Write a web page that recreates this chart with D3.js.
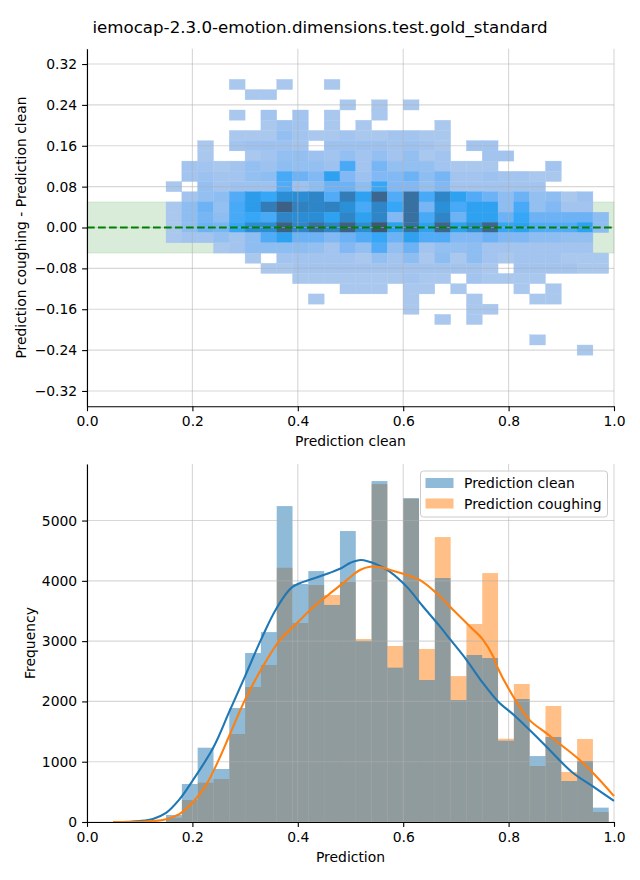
<!DOCTYPE html>
<html><head><meta charset="utf-8">
<script src="https://cdn.jsdelivr.net/npm/d3@7"></script>
<style>body{margin:0;background:#fff}svg{display:block}</style>
</head><body><svg id="c" width="640" height="880"></svg>
<script>
// ---------------- DATA ----------------
const title = "iemocap-2.3.0-emotion.dimensions.test.gold_standard";
const binStarts = [0.15,0.18,0.21,0.24,0.27,0.30,0.33,0.36,0.39,0.42,0.45,0.48,0.51,0.54,0.57,0.60,0.63,0.66,0.69,0.72,0.75,0.78,0.81,0.84,0.87,0.90,0.93,0.96];
const binWidth = 0.03;
const cleanCounts = [116,630,1232,879,1891,2803,3150,5240,3947,4162,3600,4826,3000,5655,2560,5373,2355,4046,2023,2770,2720,1348,2040,1094,1410,680,1012,238];
const coughCounts = [71,365,652,713,1459,2239,2604,4217,3300,3930,3765,3980,3035,5605,2919,5360,2870,4726,2420,3284,4129,1381,2289,929,1924,829,1376,166];
const kdeCleanX = [0.05,0.08,0.10,0.125,0.15,0.175,0.20,0.24,0.27,0.30,0.33,0.36,0.39,0.43,0.46,0.48,0.50,0.52,0.55,0.575,0.607,0.638,0.67,0.69,0.72,0.75,0.78,0.81,0.84,0.87,0.92,0.96,1.0];
const kdeCleanY = [0,4,15,50,150,370,680,1240,1830,2420,3020,3550,3900,4040,4130,4200,4300,4345,4270,4150,3900,3570,3240,3020,2690,2320,2000,1774,1525,1265,830,590,350];
const kdeCoughX = [0.05,0.08,0.10,0.125,0.15,0.175,0.20,0.225,0.25,0.27,0.30,0.335,0.366,0.398,0.43,0.461,0.493,0.518,0.537,0.56,0.575,0.607,0.632,0.664,0.695,0.727,0.752,0.771,0.777,0.809,0.84,0.872,0.904,0.935,0.967,1.0];
const kdeCoughY = [0,1,4,14,45,130,320,600,1030,1430,2030,2600,3018,3295,3570,3790,4013,4180,4234,4220,4180,4096,4013,3790,3515,3240,3018,2740,2600,2078,1690,1470,1249,1028,751,430];
const heatY = [0.28,0.26,0.24,0.22,0.20,0.18,0.16,0.14,0.12,0.10,0.08,0.06,0.04,0.02,0.00,-0.02,-0.04,-0.06,-0.08,-0.10,-0.12,-0.14,-0.16,-0.18,-0.20,-0.22,-0.24];
const heatYHalf = 0.01;
const heatMax = 100;
const heatCounts = [
[0,0,0,0,1,0,0,1,0,0,1,0,0,0,0,0,0,0,0,0,0,0,0,0,0,0,0,0],
[0,0,0,0,0,1,1,0,0,0,0,0,0,0,0,0,0,0,0,0,0,0,0,0,0,0,0,0],
[0,0,0,0,0,0,0,0,0,0,0,1,0,1,0,1,0,0,0,0,0,0,0,0,0,0,0,0],
[0,0,0,0,1,0,4,0,4,0,1,0,0,1,0,0,0,0,0,0,0,0,0,0,0,0,0,0],
[0,0,0,0,0,0,1,6,4,0,1,0,1,0,0,0,0,1,0,0,0,0,0,0,0,0,0,0],
[0,0,0,0,1,1,1,9,4,1,1,4,1,1,4,4,1,1,0,0,0,0,0,0,0,0,0,0],
[0,0,1,0,4,6,6,6,4,0,6,6,6,6,4,6,4,1,0,4,4,0,0,0,0,0,0,0],
[0,0,1,0,0,1,4,9,9,6,4,9,4,9,4,9,1,4,0,0,4,4,0,0,0,0,0,0],
[0,4,4,1,4,9,6,11,9,9,6,29,4,18,9,9,9,4,1,1,1,0,0,0,4,0,0,0],
[0,4,6,4,4,9,11,29,21,15,36,15,6,15,15,21,11,18,4,4,6,4,4,1,1,0,0,0],
[1,0,9,4,6,6,6,27,6,11,21,21,11,32,15,15,9,15,4,4,4,4,4,4,0,0,0,0],
[0,4,9,11,27,40,32,52,52,58,27,66,36,85,27,76,29,58,36,27,21,11,21,9,11,1,6,0],
[1,11,21,9,29,40,66,89,62,58,62,50,29,58,32,76,18,50,29,36,36,11,29,9,15,4,4,0],
[1,11,18,11,29,32,29,58,52,52,36,58,36,58,15,76,29,58,21,36,36,21,32,21,21,21,21,11],
[1,11,21,18,32,52,52,89,58,76,58,89,52,97,36,76,36,85,36,52,85,32,36,27,27,27,36,11],
[1,4,4,9,4,11,27,36,21,21,15,21,27,32,21,36,27,27,15,15,21,15,15,11,11,9,9,0],
[0,0,0,1,4,11,11,11,11,9,4,15,9,27,9,21,4,9,9,11,4,4,4,4,4,4,4,0],
[0,0,0,0,0,1,0,4,4,4,4,4,1,9,4,11,1,11,1,11,4,1,4,4,4,1,1,1],
[0,0,0,0,0,0,1,1,4,4,4,4,4,4,4,4,4,4,4,4,1,0,4,4,4,4,1,1],
[0,0,0,0,0,0,0,0,1,1,1,1,1,1,1,4,1,1,0,4,1,1,1,1,0,0,0,0],
[0,0,0,0,0,0,0,0,0,0,0,1,1,1,0,1,1,0,1,0,0,0,1,0,1,0,0,0],
[0,0,0,0,0,0,0,0,0,1,0,0,0,0,0,1,0,0,0,1,0,0,0,1,1,0,0,0],
[0,0,0,0,0,0,0,0,0,0,0,0,0,0,0,1,0,0,0,1,1,0,0,0,0,0,0,0],
[0,0,0,0,0,0,0,0,0,0,0,0,0,0,0,0,0,1,0,1,0,0,0,0,0,0,0,0],
[0,0,0,0,0,0,0,0,0,0,0,0,0,0,0,0,0,0,0,0,0,0,0,0,0,0,0,0],
[0,0,0,0,0,0,0,0,0,0,0,0,0,0,0,0,0,0,0,0,0,0,0,1,0,0,0,0],
[0,0,0,0,0,0,0,0,0,0,0,0,0,0,0,0,0,0,0,0,0,0,0,0,0,0,1,0]
];
const xTicks = [0,0.2,0.4,0.6,0.8,1.0];
const topYTicks = [-0.32,-0.24,-0.16,-0.08,0,0.08,0.16,0.24,0.32];
const botYTicks = [0,1000,2000,3000,4000,5000];
const seriesNames = ["Prediction clean","Prediction coughing"];
const C0 = "#1f77b4", C1 = "#ff7f0e";

// ---------------- HUSL colormap (seaborn style) ----------------
const M=[[3.2406,-1.5372,-0.4986],[-0.9689,1.8758,0.0415],[0.0557,-0.2040,1.0570]];
const Minv=[[0.4124,0.3576,0.1805],[0.2126,0.7152,0.0722],[0.0193,0.1192,0.9505]];
const refY=1.0, refU=0.19784, refV=0.46834, labE=0.008856, labK=903.3;
function maxChroma(L,H){
  const hr=H*Math.PI/180, sH=Math.sin(hr), cH=Math.cos(hr);
  const sub1=Math.pow(L+16,3)/1560896, sub2=sub1>0.008856?sub1:L/903.3;
  let res=Infinity;
  for(const [m1,m2,m3] of M){
    const top=(0.99915*m1+1.05122*m2+1.14460*m3)*sub2;
    const rb=0.86330*m3-0.17266*m2, lb=0.12949*m3-0.38848*m1;
    const bottom=(rb*sH+lb*cH)*sub2;
    for(const t of [0,1]){const C=L*(top-1.05122*t)/(bottom+0.17266*sH*t); if(C>0&&C<res)res=C;}
  }
  return res;
}
const toLin=c=>c>0.04045?Math.pow((c+0.055)/1.055,2.4):c/12.92;
const fromLin=c=>c<=0.0031308?12.92*c:1.055*Math.pow(c,1/2.4)-0.055;
const fF=t=>t>labE?Math.cbrt(t):7.787*t+16/116;
const fInv=t=>Math.pow(t,3)>labE?Math.pow(t,3):(116*t-16)/labK;
function rgbToHusl(r,g,b){
  const l=[r,g,b].map(toLin);
  const [X,Y,Z]=Minv.map(w=>w[0]*l[0]+w[1]*l[1]+w[2]*l[2]);
  const d=X+15*Y+3*Z, vu=4*X/d, vv=9*Y/d;
  const L=116*fF(Y/refY)-16, U=13*L*(vu-refU), V=13*L*(vv-refV);
  let H=Math.atan2(V,U)*180/Math.PI; if(H<0)H+=360;
  return [H, Math.hypot(U,V)/maxChroma(L,H)*100, L];
}
function huslToRgb(H,S,L){
  const C=maxChroma(L,H)/100*S, hr=H*Math.PI/180;
  const U=Math.cos(hr)*C, V=Math.sin(hr)*C;
  const Y=fInv((L+16)/116)*refY, vu=U/(13*L)+refU, vv=V/(13*L)+refV;
  const X=-(9*Y*vu)/((vu-4)*vv-vu*vv), Z=(9*Y-15*vv*Y-vv*X)/(3*vv);
  return M.map(w=>Math.min(1,Math.max(0,fromLin(w[0]*X+w[1]*Y+w[2]*Z))));
}
const baseRgb=d3.rgb(C0);
const [hh,ss]=rgbToHusl(baseRgb.r/255,baseRgb.g/255,baseRgb.b/255);
const NN=Math.floor(1.15*256), ramp=[];
for(let i=0;i<256;i++){
  const xx=-1+2*i/(NN-1);
  const rgb=huslToRgb(hh, ss*Math.cos(xx), 35+45*i/255);
  ramp.push(d3.rgb(rgb[0]*255,rgb[1]*255,rgb[2]*255).formatHex());
}
ramp.reverse();
const cmap=t=>ramp[Math.max(0,Math.min(255,Math.floor(t*256)))];

// ---------------- DRAW ----------------
const svg=d3.select("#c");
const FONT="'DejaVu Sans', sans-serif";
const gridStyle=s=>s.attr("stroke","#b0b0b0").attr("stroke-opacity",0.5).attr("stroke-width",1.1);

svg.append("text").attr("x",320).attr("y",33).attr("text-anchor","middle")
  .attr("font-family",FONT).attr("font-size",16.67).text(title);

// ---- top panel ----
const xT=d3.scaleLinear().domain([0,1]).range([87,614]);
const yT=d3.scaleLinear().domain([-0.35,0.35]).range([406.3,48.7]);
const gT=svg.append("g");
gT.append("rect").attr("x",xT(0)).attr("width",xT(1)-xT(0))
  .attr("y",yT(0.05)).attr("height",yT(-0.05)-yT(0.05))
  .attr("fill","green").attr("fill-opacity",0.15).attr("stroke","green").attr("stroke-opacity",0.12);
const cells=[];
heatY.forEach((yv,ri)=>heatCounts[ri].forEach((c,ci)=>{if(c>0)cells.push({x0:binStarts[ci],y:yv,c});}));
gT.selectAll("rect.cell").data(cells).join("rect").attr("class","cell")
  .attr("x",d=>xT(d.x0)).attr("width",d=>xT(d.x0+binWidth)-xT(d.x0))
  .attr("y",d=>yT(d.y+heatYHalf)).attr("height",d=>yT(d.y-heatYHalf)-yT(d.y+heatYHalf))
  .attr("fill",d=>cmap(d.c/heatMax)).attr("stroke",d=>cmap(d.c/heatMax)).attr("stroke-width",0.35);
// grid
gT.selectAll("line.gx").data(xTicks).join("line").attr("x1",d=>xT(d)).attr("x2",d=>xT(d)).attr("y1",yT.range()[0]).attr("y2",yT.range()[1]).call(gridStyle);
gT.selectAll("line.gy").data(topYTicks).join("line").attr("x1",xT(0)).attr("x2",xT(1)).attr("y1",d=>yT(d)).attr("y2",d=>yT(d)).call(gridStyle);
// zero line
gT.append("line").attr("x1",xT(0)).attr("x2",xT(1)).attr("y1",yT(0)).attr("y2",yT(0))
  .attr("stroke","green").attr("stroke-width",2.1).attr("stroke-dasharray","7.7,3.3");

function styleAxis(g){
  g.attr("font-family",FONT).attr("font-size",13.9);
  g.selectAll("path").attr("stroke","#000").attr("stroke-width",1.1);
  g.selectAll("line").attr("stroke","#000").attr("stroke-width",1.1);
  g.selectAll("text").attr("fill","#000");
}
gT.append("g").attr("transform",`translate(0,${yT.range()[0]})`)
  .call(d3.axisBottom(xT).tickValues(xTicks).tickFormat(d3.format(".1f")).tickSize(4.9).tickPadding(4.9).tickSizeOuter(0)).call(styleAxis);
gT.append("g").attr("transform",`translate(${xT(0)},0)`)
  .call(d3.axisLeft(yT).tickValues(topYTicks).tickFormat(d3.format(".2f")).tickSize(4.9).tickPadding(4.9).tickSizeOuter(0)).call(styleAxis);
svg.append("text").attr("x",350.5).attr("y",446).attr("text-anchor","middle").attr("font-family",FONT).attr("font-size",13.9).text("Prediction clean");
svg.append("text").attr("transform","translate(26,227.5) rotate(-90)").attr("text-anchor","middle").attr("font-family",FONT).attr("font-size",13.9).text("Prediction coughing - Prediction clean");

// ---- bottom panel ----
const xB=d3.scaleLinear().domain([0,1]).range([87,614]);
const yB=d3.scaleLinear().domain([0,5938]).range([822,464]);
const gB=svg.append("g");
const drawBars=(counts,color)=>gB.append("g").selectAll("rect").data(counts).join("rect")
  .attr("x",(d,i)=>xB(binStarts[i])).attr("width",(d,i)=>xB(binStarts[i]+binWidth)-xB(binStarts[i]))
  .attr("y",d=>yB(d)).attr("height",d=>yB(0)-yB(d)).attr("fill",color).attr("fill-opacity",0.5);
drawBars(coughCounts,C1);
drawBars(cleanCounts,C0);
gB.selectAll("line.gx").data(xTicks).join("line").attr("x1",d=>xB(d)).attr("x2",d=>xB(d)).attr("y1",yB.range()[0]).attr("y2",yB.range()[1]).call(gridStyle);
gB.selectAll("line.gy").data(botYTicks).join("line").attr("x1",xB(0)).attr("x2",xB(1)).attr("y1",d=>yB(d)).attr("y2",d=>yB(d)).call(gridStyle);
const line=d3.line().curve(d3.curveCatmullRom.alpha(0.5));
gB.append("path").attr("d",line(kdeCleanX.map((x,i)=>[xB(x),yB(kdeCleanY[i])]))).attr("fill","none").attr("stroke",C0).attr("stroke-width",2.1);
gB.append("path").attr("d",line(kdeCoughX.map((x,i)=>[xB(x),yB(kdeCoughY[i])]))).attr("fill","none").attr("stroke",C1).attr("stroke-width",2.1);
gB.append("g").attr("transform",`translate(0,${yB.range()[0]})`)
  .call(d3.axisBottom(xB).tickValues(xTicks).tickFormat(d3.format(".1f")).tickSize(4.9).tickPadding(4.9).tickSizeOuter(0)).call(styleAxis);
gB.append("g").attr("transform",`translate(${xB(0)},0)`)
  .call(d3.axisLeft(yB).tickValues(botYTicks).tickFormat(d3.format("d")).tickSize(4.9).tickPadding(4.9).tickSizeOuter(0)).call(styleAxis);
svg.append("text").attr("x",350.5).attr("y",862).attr("text-anchor","middle").attr("font-family",FONT).attr("font-size",13.9).text("Prediction");
svg.append("text").attr("transform","translate(35,643) rotate(-90)").attr("text-anchor","middle").attr("font-family",FONT).attr("font-size",13.9).text("Frequency");

// legend
const lg=svg.append("g");
lg.append("rect").attr("x",420.5).attr("y",471).attr("width",187).attr("height",46).attr("rx",3)
  .attr("fill","#fff").attr("fill-opacity",0.8).attr("stroke","#cccccc").attr("stroke-width",1);
seriesNames.forEach((n,i)=>{
  lg.append("rect").attr("x",425.5).attr("y",478+i*20.5).attr("width",28).attr("height",10)
    .attr("fill",i===0?C0:C1).attr("fill-opacity",0.5);
  lg.append("text").attr("x",464).attr("y",488+i*20.5).attr("font-family",FONT).attr("font-size",13.9).text(n);
});
</script></body></html>
